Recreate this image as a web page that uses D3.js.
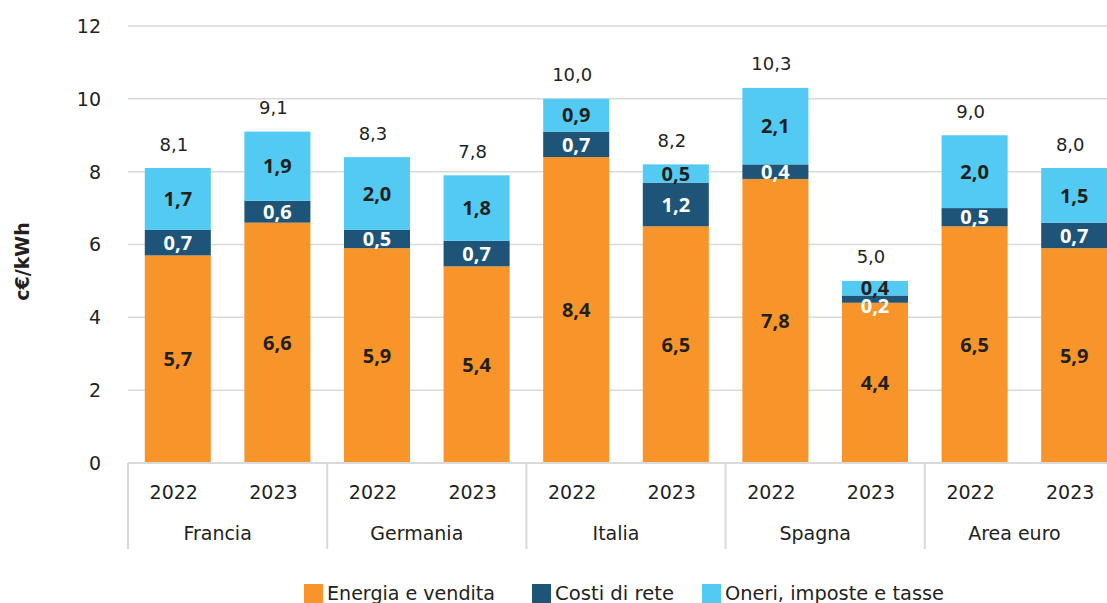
<!DOCTYPE html>
<html>
<head>
<meta charset="utf-8">
<script src="https://cdn.jsdelivr.net/npm/d3@7"></script>
<style>
  body { margin: 0; background: #fff; }
  svg { display: block; font-family: "DejaVu Sans", sans-serif; }
  .bold { font-family: "Open Sans", sans-serif; font-weight: bold; }
</style>
</head>
<body>
<div id="chart"></div>
<script>
// data
const countries = ["Francia", "Germania", "Italia", "Spagna", "Area euro"];
const years = ["2022", "2023"];
const seriesNames = ["Energia e vendita", "Costi di rete", "Oneri, imposte e tasse"];
// one value per bar, order: country x year
const energia = [5.7, 6.6, 5.9, 5.4, 8.4, 6.5, 7.8, 4.4, 6.5, 5.9];
const costiRete = [0.7, 0.6, 0.5, 0.7, 0.7, 1.2, 0.4, 0.2, 0.5, 0.7];
const oneri = [1.7, 1.9, 2.0, 1.8, 0.9, 0.5, 2.1, 0.4, 2.0, 1.5];
const totals = [8.1, 9.1, 8.3, 7.8, 10.0, 8.2, 10.3, 5.0, 9.0, 8.0];
const yTicks = [0, 2, 4, 6, 8, 10, 12];

const colors = ["#F7952A", "#1D5477", "#53CAF2"];
const labelColors = ["#231F20", "#ffffff", "#231F20"];

const width = 1107, height = 603;
const margin = {left: 128, right: -17, top: 26, bottom: 140};
const plotRight = width - margin.right;
const plotBottom = height - margin.bottom;

const rows = [];
countries.forEach((c, ci) => years.forEach((yr, yi) => {
  const i = ci * 2 + yi;
  rows.push({country: c, year: yr, i: i,
    "Energia e vendita": energia[i], "Costi di rete": costiRete[i],
    "Oneri, imposte e tasse": oneri[i], total: totals[i]});
}));

const svg = d3.select("#chart").append("svg")
  .attr("width", width).attr("height", height);

const x0 = d3.scaleBand().domain(countries).range([margin.left, plotRight]).padding(0);
const x1 = d3.scaleBand().domain(years).range([0, x0.bandwidth()])
  .paddingInner(0.337).paddingOuter(0.1685);
const y = d3.scaleLinear().domain([0, 12]).range([plotBottom, margin.top]);

// gridlines
svg.append("g").selectAll("line").data(yTicks.filter(d => d > 0)).join("line")
  .attr("x1", margin.left).attr("x2", plotRight)
  .attr("y1", d => y(d)).attr("y2", d => y(d))
  .attr("stroke", "#D9D9D9").attr("stroke-width", 1.5);

// y tick labels
svg.append("g").selectAll("text").data(yTicks).join("text")
  .attr("x", 101).attr("y", d => y(d)).attr("dy", "0.36em")
  .attr("text-anchor", "end").attr("font-size", 19).attr("fill", "#231F20")
  .text(d => d);

// y axis title
svg.append("text")
  .attr("transform", "translate(29," + (y(6) + 17) + ") rotate(-90)")
  .attr("text-anchor", "middle").attr("font-size", 19).attr("font-weight", "bold")
  .attr("fill", "#231F20").text("c€/kWh");

// stacked bars
const stack = d3.stack().keys(seriesNames);
const layers = stack(rows);
const barX = d => x0(d.data.country) + x1(d.data.year);

const layerG = svg.append("g").selectAll("g").data(layers).join("g")
  .attr("fill", (d, i) => colors[i]);
layerG.selectAll("rect").data(d => d).join("rect")
  .attr("x", barX)
  .attr("y", d => y(d[1]))
  .attr("width", x1.bandwidth())
  .attr("height", d => y(d[0]) - y(d[1]));

// segment labels (thin segments get their label nudged down a little)
const fmt = v => d3.format(".1f")(v).replace(".", ",");
const labG = svg.append("g").selectAll("g").data(layers).join("g")
  .attr("fill", (d, i) => labelColors[i]);
labG.selectAll("text").data(d => d).join("text")
  .attr("class", "bold")
  .attr("x", d => barX(d) + x1.bandwidth() / 2)
  .attr("y", d => {
    const mid = (y(d[0]) + y(d[1])) / 2;
    return (y(d[0]) - y(d[1]) < 10) ? mid + 7 : mid;
  })
  .attr("dy", "0.36em")
  .attr("text-anchor", "middle").attr("font-size", 20)
  .text(d => fmt(d[1] - d[0]));

// totals
svg.append("g").selectAll("text").data(rows).join("text")
  .attr("x", d => x0(d.country) + x1(d.year) + x1.bandwidth() / 2 - 4)
  .attr("y", d => y(d3.sum(seriesNames, k => d[k])) - 24)
  .attr("dy", "0.36em")
  .attr("text-anchor", "middle").attr("font-size", 18).attr("fill", "#231F20")
  .text(d => fmt(d.total));

// category axis
const axisG = svg.append("g");
axisG.append("line")
  .attr("x1", margin.left).attr("x2", plotRight)
  .attr("y1", plotBottom).attr("y2", plotBottom)
  .attr("stroke", "#D9D9D9").attr("stroke-width", 2);
axisG.selectAll("line.div").data(countries.concat(["end"])).join("line")
  .attr("class", "div")
  .attr("x1", d => d === "end" ? plotRight : x0(d))
  .attr("x2", d => d === "end" ? plotRight : x0(d))
  .attr("y1", plotBottom).attr("y2", plotBottom + 86)
  .attr("stroke", "#D9D9D9").attr("stroke-width", 2);
axisG.selectAll("text.year").data(rows).join("text")
  .attr("class", "year")
  .attr("x", d => x0(d.country) + x1(d.year) + x1.bandwidth() / 2 - 4)
  .attr("y", plotBottom + 29).attr("dy", "0.36em")
  .attr("text-anchor", "middle").attr("font-size", 19).attr("fill", "#231F20")
  .text(d => d.year);
axisG.selectAll("text.country").data(countries).join("text")
  .attr("class", "country")
  .attr("x", d => x0(d) + x0.bandwidth() / 2 - 10)
  .attr("y", plotBottom + 70).attr("dy", "0.36em")
  .attr("text-anchor", "middle").attr("font-size", 19).attr("fill", "#231F20")
  .text(d => d);

// legend
const legendX = [304, 532, 702];
const legendLen = [168, 119, 219];
const lg = svg.append("g").selectAll("g").data(seriesNames).join("g")
  .attr("transform", (d, i) => "translate(" + legendX[i] + ",584)");
lg.append("rect").attr("width", 19).attr("height", 19)
  .attr("fill", (d, i) => colors[i]);
lg.append("text").attr("x", 23).attr("y", 16)
  .attr("textLength", (d, i) => legendLen[i]).attr("lengthAdjust", "spacingAndGlyphs")
  .attr("font-size", 19).attr("fill", "#231F20").text(d => d);
</script>
</body>
</html>
